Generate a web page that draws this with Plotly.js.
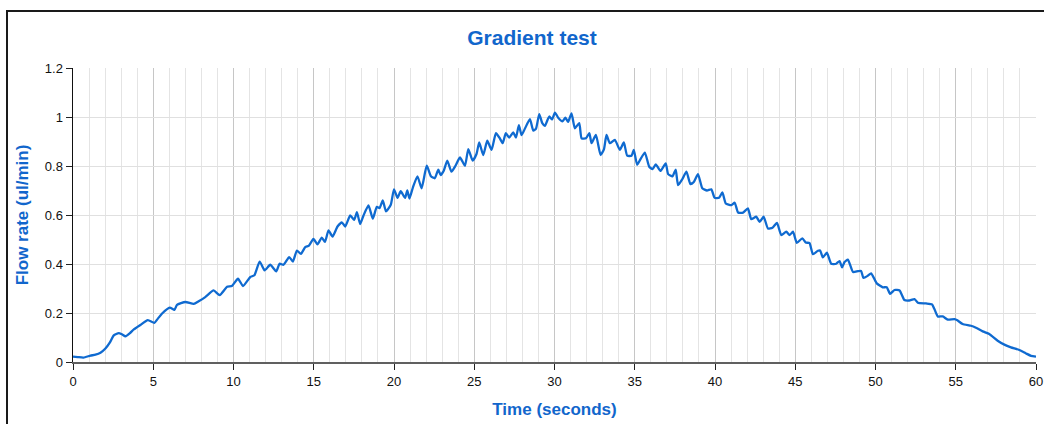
<!DOCTYPE html>
<html>
<head>
<meta charset="utf-8">
<script src="https://cdn.plot.ly/plotly-3.0.1.min.js"></script>
<style>
  html, body { margin: 0; padding: 0; background: #fff; }
  #wrap { position: relative; width: 1044px; height: 424px; overflow: hidden; }
  #frame { position: absolute; left: 6px; top: 10px; width: 1100px; height: 500px;
           border-left: 2px solid #1a1a1a; border-top: 2px solid #1a1a1a; pointer-events: none; }
  #chart { position: absolute; left: 0; top: 0; width: 1044px; height: 424px; }
</style>
</head>
<body>
<div id="wrap">
  <div id="chart"></div>
  <div id="frame"></div>
</div>
<script>
const chartTitle = "Gradient test";
const xTitle = "Time (seconds)";
const yTitle = "Flow rate (ul/min)";

const timeSeconds = [
  0, 0.3, 0.65, 1.09, 1.4, 1.71, 2.02, 2.3, 2.54, 2.85, 3.05, 3.27, 3.55, 3.79, 4.2, 4.66,
  5.07, 5.3, 5.55, 6.03, 6.32, 6.48, 7.0, 7.52, 7.83, 8.24, 8.76, 9.14, 9.6, 9.9,
  10.28, 10.59, 11.05, 11.3, 11.63, 11.94, 12.29, 12.66, 12.87, 13.12, 13.47, 13.7, 13.95, 14.2, 14.47, 14.7, 14.98,
  15.23, 15.5, 15.7, 15.92, 16.17, 16.48, 16.75, 16.96, 17.27, 17.52, 17.69, 17.89, 18.1, 18.41, 18.68, 18.93, 19.1, 19.3, 19.5, 19.8,
  20.0, 20.22, 20.42, 20.69, 20.83, 20.96, 21.18, 21.46, 21.72, 22.04, 22.3, 22.54, 22.76, 22.91, 23.1, 23.32, 23.58, 23.83, 24.11, 24.42, 24.63, 24.9,
  25.14, 25.31, 25.56, 25.81, 26.08, 26.35, 26.6, 26.77, 26.97, 27.18, 27.43, 27.6, 27.78, 27.95, 28.16, 28.47, 28.68, 28.85, 29.05, 29.24, 29.4, 29.67, 29.85,
  30.03, 30.23, 30.5, 30.68, 30.85, 31.06, 31.27, 31.54, 31.69, 31.96, 32.17, 32.31, 32.58, 32.87, 33.08, 33.24, 33.45, 33.76, 34.07, 34.32, 34.53, 34.8, 34.94,
  35.15, 35.36, 35.63, 35.9, 36.11, 36.31, 36.6, 36.93, 37.08, 37.35, 37.55, 37.7, 37.97, 38.22, 38.47, 38.68, 38.94, 39.21, 39.5, 39.77, 39.98,
  40.25, 40.46, 40.67, 41.02, 41.23, 41.44, 41.75, 42.05, 42.26, 42.57, 42.78, 43.03, 43.3, 43.58, 43.86, 44.13, 44.44, 44.65, 44.86,
  45.1, 45.44, 45.65, 45.89, 46.1, 46.41, 46.55, 46.72, 46.97, 47.24, 47.55, 47.76, 47.92, 48.07, 48.28, 48.6, 48.91, 49.1, 49.25, 49.52, 49.73,
  50.08, 50.45, 50.7, 50.91, 51.18, 51.5, 51.8, 52.1, 52.43, 52.64, 53.15, 53.52, 53.67, 53.88, 54.19, 54.5, 54.92,
  55.1, 55.43, 55.95, 56.26, 56.68, 57.09, 57.61, 58.03, 58.44, 58.96, 59.38, 59.69, 60
];

const flowRate = [
  0.022, 0.02, 0.018, 0.026, 0.03, 0.038, 0.055, 0.08, 0.109, 0.118, 0.113, 0.105, 0.118, 0.133, 0.151, 0.171,
  0.16, 0.178, 0.198, 0.222, 0.213, 0.233, 0.245, 0.237, 0.248, 0.265, 0.292, 0.273, 0.307, 0.31,
  0.34, 0.31, 0.347, 0.354, 0.41, 0.374, 0.397, 0.37, 0.401, 0.397, 0.428, 0.41, 0.455, 0.441, 0.469, 0.475, 0.502,
  0.48, 0.508, 0.49, 0.537, 0.512, 0.553, 0.57, 0.553, 0.598, 0.58, 0.612, 0.563, 0.598, 0.639, 0.585, 0.633, 0.628, 0.66, 0.615, 0.642,
  0.705, 0.67, 0.697, 0.67, 0.70, 0.667, 0.713, 0.758, 0.709, 0.801, 0.758, 0.75, 0.785, 0.763, 0.781, 0.822, 0.777, 0.801, 0.835, 0.801, 0.869, 0.822,
  0.849, 0.896, 0.845, 0.903, 0.866, 0.934, 0.912, 0.893, 0.934, 0.916, 0.937, 0.916, 0.967, 0.926, 0.953, 0.991, 0.944, 0.953, 1.012, 0.975, 0.964, 1.002, 0.99,
  1.018, 0.997, 0.982, 0.997, 0.98, 1.015, 0.954, 0.975, 0.913, 0.913, 0.934, 0.893, 0.927, 0.845, 0.868, 0.927, 0.893, 0.907, 0.866, 0.896, 0.842, 0.842, 0.866,
  0.805, 0.828, 0.855, 0.797, 0.787, 0.807, 0.78, 0.811, 0.767, 0.758, 0.785, 0.722, 0.747, 0.777, 0.726, 0.735, 0.767, 0.709, 0.70, 0.705, 0.67,
  0.67, 0.692, 0.647, 0.64, 0.65, 0.61, 0.61, 0.627, 0.583, 0.593, 0.572, 0.593, 0.545, 0.548, 0.568, 0.518, 0.532, 0.518, 0.532,
  0.486, 0.505, 0.488, 0.485, 0.44, 0.454, 0.455, 0.427, 0.446, 0.401, 0.401, 0.412, 0.386, 0.408, 0.418, 0.367, 0.371, 0.372, 0.343, 0.352, 0.362,
  0.321, 0.305, 0.305, 0.278, 0.294, 0.292, 0.253, 0.251, 0.257, 0.242, 0.239, 0.235, 0.216, 0.186, 0.186, 0.173, 0.175,
  0.17, 0.155, 0.148, 0.14, 0.125, 0.114, 0.087, 0.071, 0.06, 0.049, 0.035, 0.025, 0.022
];

const blue = "#0f6ad0";
const titleBlue = "#1166cc";
const fontFam = "Liberation Sans, Arial, sans-serif";

const trace = {
  x: timeSeconds,
  y: flowRate,
  type: "scatter",
  mode: "lines",
  line: { color: blue, width: 2.3, shape: "spline", smoothing: 0.5 },
  hoverinfo: "skip"
};

const layout = {
  width: 1044,
  height: 424,
  margin: { l: 73, r: 8, t: 68, b: 62 },
  paper_bgcolor: "rgba(0,0,0,0)",
  plot_bgcolor: "#ffffff",
  showlegend: false,
  font: { family: fontFam, size: 13, color: "#111" },
  title: {
    text: "<b>" + chartTitle + "</b>",
    font: { family: fontFam, size: 21, color: titleBlue },
    x: 532 / 1044, xref: "container", xanchor: "center",
    y: 1 - 38 / 424, yref: "container", yanchor: "middle"
  },
  xaxis: {
    range: [0, 60],
    dtick: 5, tick0: 0,
    ticks: "outside", ticklen: 6, tickcolor: "#222", tickwidth: 1,
    showline: true, linecolor: "#606060", linewidth: 2,
    showgrid: true, gridcolor: "#c6c6c6", gridwidth: 1,
    minor: { dtick: 1, showgrid: true, gridcolor: "#e4e4e4", gridwidth: 1 },
    zeroline: false,
    tickfont: { family: fontFam, size: 13, color: "#111" },
    title: { text: "<b>" + xTitle + "</b>", font: { family: fontFam, size: 17, color: titleBlue }, standoff: 16 }
  },
  yaxis: {
    range: [0, 1.2],
    dtick: 0.2, tick0: 0,
    ticks: "outside", ticklen: 6, tickcolor: "#222", tickwidth: 1,
    showline: true, linecolor: "#111", linewidth: 1.5,
    showgrid: true, gridcolor: "#e0e0e0", gridwidth: 1,
    zeroline: false,
    tickfont: { family: fontFam, size: 13, color: "#111" },
    title: { text: "<b>" + yTitle + "</b>", font: { family: fontFam, size: 17, color: titleBlue }, standoff: 12 }
  }
};

Plotly.newPlot("chart", [trace], layout, { staticPlot: true, displayModeBar: false });
</script>
</body>
</html>
